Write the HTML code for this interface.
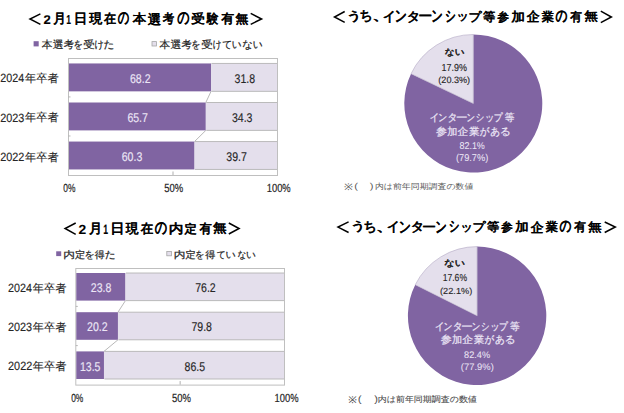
<!DOCTYPE html>
<html><head><meta charset="utf-8"><style>
html,body{margin:0;padding:0;background:#fff;width:624px;height:413px;overflow:hidden}
svg{display:block;font-family:"Liberation Sans", sans-serif;text-rendering:geometricPrecision}
</style></head><body>
<svg width="624" height="413" viewBox="0 0 624 413">
<polyline points="40.4,13.8 30,19 40.4,24.3" fill="none" stroke="#000" stroke-width="1.5" stroke-linejoin="miter"/>
<polyline points="250.7,13.4 261.6,19 250.7,24.3" fill="none" stroke="#000" stroke-width="1.5" stroke-linejoin="miter"/>
<rect x="33.6" y="41.2" width="5.1" height="5.2" fill="#8064a2"/>
<rect x="152" y="41.6" width="4.4" height="4.4" fill="#e4dfec" stroke="#a6a6a6" stroke-width="0.8"/>
<rect x="68.5" y="58.5" width="209" height="117" fill="#fff" stroke="#bfbfbf" stroke-width="1"/>
<rect x="69.0" y="63.45" width="142.038" height="27.9" fill="#8064a2"/>
<rect x="211.038" y="63.45" width="65.96199999999999" height="27.9" fill="#e4dfec"/>
<path d="M211.538,63.45 H277.0 M211.538,91.35 H277.0" stroke="#b4b4b4" stroke-width="0.9" fill="none"/>
<rect x="69.0" y="102.5" width="136.81300000000002" height="27.9" fill="#8064a2"/>
<rect x="205.81300000000002" y="102.5" width="71.18699999999998" height="27.9" fill="#e4dfec"/>
<path d="M206.31300000000002,102.5 H277.0 M206.31300000000002,130.4 H277.0" stroke="#b4b4b4" stroke-width="0.9" fill="none"/>
<line x1="211.038" y1="91.35" x2="205.81300000000002" y2="102.5" stroke="#a6a6a6" stroke-width="0.8"/>
<rect x="69.0" y="141.55" width="125.52699999999999" height="27.9" fill="#8064a2"/>
<rect x="194.527" y="141.55" width="82.47300000000001" height="27.9" fill="#e4dfec"/>
<path d="M195.027,141.55 H277.0 M195.027,169.45000000000002 H277.0" stroke="#b4b4b4" stroke-width="0.9" fill="none"/>
<line x1="205.81300000000002" y1="130.4" x2="194.527" y2="141.55" stroke="#a6a6a6" stroke-width="0.8"/>
<line x1="68.5" y1="96.92500000000001" x2="70.5" y2="96.92500000000001" stroke="#a6a6a6" stroke-width="0.8"/>
<line x1="68.5" y1="135.975" x2="70.5" y2="135.975" stroke="#a6a6a6" stroke-width="0.8"/>
<line x1="173.0" y1="171.5" x2="173.0" y2="175" stroke="#a6a6a6" stroke-width="0.9"/>
<polyline points="75.7,223 65.1,228.5 75.7,234.3" fill="none" stroke="#000" stroke-width="1.5" stroke-linejoin="miter"/>
<polyline points="228.8,223 239.1,228.5 228.8,234" fill="none" stroke="#000" stroke-width="1.5" stroke-linejoin="miter"/>
<rect x="56.2" y="251.3" width="5" height="4.8" fill="#8064a2"/>
<rect x="166.8" y="251.4" width="4.7" height="4.4" fill="#e4dfec" stroke="#a6a6a6" stroke-width="0.8"/>
<rect x="75.8" y="268.5" width="208.7" height="116.60000000000002" fill="#fff" stroke="#bfbfbf" stroke-width="1"/>
<rect x="76.3" y="273.0" width="49.17059999999999" height="27.6" fill="#8064a2"/>
<rect x="125.47059999999999" y="273.0" width="158.5294" height="27.6" fill="#e4dfec"/>
<path d="M125.97059999999999,273.0 H284.0 M125.97059999999999,300.6 H284.0" stroke="#b4b4b4" stroke-width="0.9" fill="none"/>
<rect x="76.3" y="312.2" width="41.657399999999996" height="27.6" fill="#8064a2"/>
<rect x="117.95739999999999" y="312.2" width="166.0426" height="27.6" fill="#e4dfec"/>
<path d="M118.45739999999999,312.2 H284.0 M118.45739999999999,339.8 H284.0" stroke="#b4b4b4" stroke-width="0.9" fill="none"/>
<line x1="125.47059999999999" y1="300.6" x2="117.95739999999999" y2="312.2" stroke="#a6a6a6" stroke-width="0.8"/>
<rect x="76.3" y="351.40000000000003" width="27.674499999999995" height="27.6" fill="#8064a2"/>
<rect x="103.97449999999999" y="351.40000000000003" width="180.02550000000002" height="27.6" fill="#e4dfec"/>
<path d="M104.47449999999999,351.40000000000003 H284.0 M104.47449999999999,379.00000000000006 H284.0" stroke="#b4b4b4" stroke-width="0.9" fill="none"/>
<line x1="117.95739999999999" y1="339.8" x2="103.97449999999999" y2="351.40000000000003" stroke="#a6a6a6" stroke-width="0.8"/>
<line x1="75.8" y1="306.40000000000003" x2="77.8" y2="306.40000000000003" stroke="#a6a6a6" stroke-width="0.8"/>
<line x1="75.8" y1="345.6" x2="77.8" y2="345.6" stroke="#a6a6a6" stroke-width="0.8"/>
<line x1="180.14999999999998" y1="381.1" x2="180.14999999999998" y2="384.6" stroke="#a6a6a6" stroke-width="0.9"/>
<path d="M473.3,103.5 L473.3,34.5 A69,69 0 1 1 411.05,73.73 Z" fill="#8064a2"/>
<path d="M473.3,103.5 L411.05,73.73 A69,69 0 0 1 473.3,34.5 Z" fill="#e4dfec" stroke="#b4aac4" stroke-width="0.6"/>
<polyline points="344.7,11.5 334.5,17 344.7,22.4" fill="none" stroke="#000" stroke-width="1.5" stroke-linejoin="miter"/>
<polyline points="600.8,11.2 611.4,17 600.8,22.7" fill="none" stroke="#000" stroke-width="1.5" stroke-linejoin="miter"/>
<path d="M477.1,315.8 L477.1,246.60000000000002 A69.2,69.2 0 1 1 415.25,284.77 Z" fill="#8064a2"/>
<path d="M477.1,315.8 L415.25,284.77 A69.2,69.2 0 0 1 477.1,246.60000000000002 Z" fill="#e4dfec" stroke="#b4aac4" stroke-width="0.6"/>
<polyline points="348.6,221.9 338,227.1 348.6,232.5" fill="none" stroke="#000" stroke-width="1.5" stroke-linejoin="miter"/>
<polyline points="604.7,222 615.3,227 604.7,232.5" fill="none" stroke="#000" stroke-width="1.5" stroke-linejoin="miter"/>
<text transform="translate(43.608,23.600) scale(0.13061,0.12571)" font-size="100" font-weight="bold" fill="#000" stroke="#000" stroke-width="0.78">2</text>
<text transform="translate(53.200,22.984) scale(0.12658,0.13441)" font-size="100" font-weight="bold" fill="#000" stroke="#000" stroke-width="0.77">月</text>
<text transform="translate(66.289,23.600) scale(0.08511,0.13043)" font-size="100" font-weight="bold" fill="#000" stroke="#000" stroke-width="0.93">1</text>
<text transform="translate(73.800,23.098) scale(0.13571,0.13587)" font-size="100" font-weight="bold" fill="#000" stroke="#000" stroke-width="0.74">日</text>
<text transform="translate(89.259,23.138) scale(0.12941,0.13298)" font-size="100" font-weight="bold" fill="#000" stroke="#000" stroke-width="0.76">現</text>
<text transform="translate(103.921,23.177) scale(0.12121,0.13021)" font-size="100" font-weight="bold" fill="#000" stroke="#000" stroke-width="0.80">在</text>
<text transform="translate(117.671,23.355) scale(0.11474,0.16447)" font-size="100" font-weight="bold" fill="#000" stroke="#000" stroke-width="0.72">の</text>
<text transform="translate(132.869,23.214) scale(0.13465,0.12755)" font-size="100" font-weight="bold" fill="#000" stroke="#000" stroke-width="0.76">本</text>
<text transform="translate(147.667,23.656) scale(0.13299,0.13441)" font-size="100" font-weight="bold" fill="#000" stroke="#000" stroke-width="0.75">選</text>
<text transform="translate(162.700,23.214) scale(0.11531,0.12755)" font-size="100" font-weight="bold" fill="#000" stroke="#000" stroke-width="0.82">考</text>
<text transform="translate(177.356,23.355) scale(0.12211,0.16447)" font-size="100" font-weight="bold" fill="#000" stroke="#000" stroke-width="0.70">の</text>
<text transform="translate(191.326,23.342) scale(0.13723,0.12755)" font-size="100" font-weight="bold" fill="#000" stroke="#000" stroke-width="0.76">受</text>
<text transform="translate(206.853,23.067) scale(0.11765,0.12887)" font-size="100" font-weight="bold" fill="#000" stroke="#000" stroke-width="0.81">験</text>
<text transform="translate(221.329,23.177) scale(0.12929,0.13021)" font-size="100" font-weight="bold" fill="#000" stroke="#000" stroke-width="0.77">有</text>
<text transform="translate(235.600,22.772) scale(0.12887,0.12376)" font-size="100" font-weight="bold" fill="#000" stroke="#000" stroke-width="0.79">無</text>
<text transform="translate(41.694,48.162) scale(0.10638,0.10319)" font-size="100" font-weight="normal" fill="#262626" stroke="#262626" stroke-width="2.10">本</text>
<text transform="translate(52.677,48.162) scale(0.10778,0.10319)" font-size="100" font-weight="normal" fill="#262626" stroke="#262626" stroke-width="2.09">選</text>
<text transform="translate(63.796,48.162) scale(0.10213,0.10319)" font-size="100" font-weight="normal" fill="#262626" stroke="#262626" stroke-width="2.14">考</text>
<text transform="translate(73.484,48.162) scale(0.09241,0.10319)" font-size="100" font-weight="normal" fill="#262626" stroke="#262626" stroke-width="2.25">を</text>
<text transform="translate(83.237,48.162) scale(0.11573,0.10319)" font-size="100" font-weight="normal" fill="#262626" stroke="#262626" stroke-width="2.01">受</text>
<text transform="translate(94.558,48.162) scale(0.09167,0.10319)" font-size="100" font-weight="normal" fill="#262626" stroke="#262626" stroke-width="2.26">け</text>
<text transform="translate(103.557,48.162) scale(0.10714,0.10319)" font-size="100" font-weight="normal" fill="#262626" stroke="#262626" stroke-width="2.09">た</text>
<text transform="translate(159.494,48.162) scale(0.10638,0.10319)" font-size="100" font-weight="normal" fill="#262626" stroke="#262626" stroke-width="2.10">本</text>
<text transform="translate(170.477,48.162) scale(0.10778,0.10319)" font-size="100" font-weight="normal" fill="#262626" stroke="#262626" stroke-width="2.09">選</text>
<text transform="translate(181.596,48.162) scale(0.10213,0.10319)" font-size="100" font-weight="normal" fill="#262626" stroke="#262626" stroke-width="2.14">考</text>
<text transform="translate(191.297,48.162) scale(0.09114,0.10319)" font-size="100" font-weight="normal" fill="#262626" stroke="#262626" stroke-width="2.26">を</text>
<text transform="translate(201.237,48.162) scale(0.11573,0.10319)" font-size="100" font-weight="normal" fill="#262626" stroke="#262626" stroke-width="2.01">受</text>
<text transform="translate(212.692,48.162) scale(0.08690,0.10319)" font-size="100" font-weight="normal" fill="#262626" stroke="#262626" stroke-width="2.31">け</text>
<text transform="translate(222.205,48.162) scale(0.09881,0.10319)" font-size="100" font-weight="normal" fill="#262626" stroke="#262626" stroke-width="2.18">て</text>
<text transform="translate(231.631,48.162) scale(0.09651,0.10319)" font-size="100" font-weight="normal" fill="#262626" stroke="#262626" stroke-width="2.20">い</text>
<text transform="translate(242.183,48.162) scale(0.10345,0.10319)" font-size="100" font-weight="normal" fill="#262626" stroke="#262626" stroke-width="2.13">な</text>
<text transform="translate(252.721,48.162) scale(0.09767,0.10319)" font-size="100" font-weight="normal" fill="#262626" stroke="#262626" stroke-width="2.19">い</text>
<text transform="translate(129.992,82.873) scale(0.10541,0.12676)" font-size="100" font-weight="normal" fill="#ece6f6" stroke="#ece6f6" stroke-width="1.29">68.2</text>
<text transform="translate(234.545,82.873) scale(0.10541,0.12676)" font-size="100" font-weight="normal" fill="#262626" stroke="#262626" stroke-width="1.29">31.8</text>
<text transform="translate(0.263,82.480) scale(0.10748,0.11972)" font-size="100" font-weight="normal" fill="#262626" stroke="#262626" stroke-width="1.32">2024</text>
<text transform="translate(24.987,82.438) scale(0.11254,0.11354)" font-size="100" font-weight="normal" fill="#262626" stroke="#262626" stroke-width="0.88">年卒者</text>
<text transform="translate(127.379,121.923) scale(0.10541,0.12676)" font-size="100" font-weight="normal" fill="#ece6f6" stroke="#ece6f6" stroke-width="1.29">65.7</text>
<text transform="translate(231.932,121.923) scale(0.10541,0.12676)" font-size="100" font-weight="normal" fill="#262626" stroke="#262626" stroke-width="1.29">34.3</text>
<text transform="translate(0.260,121.530) scale(0.10798,0.11972)" font-size="100" font-weight="normal" fill="#262626" stroke="#262626" stroke-width="1.32">2023</text>
<text transform="translate(24.987,121.488) scale(0.11254,0.11354)" font-size="100" font-weight="normal" fill="#262626" stroke="#262626" stroke-width="0.88">年卒者</text>
<text transform="translate(121.736,160.973) scale(0.10541,0.12676)" font-size="100" font-weight="normal" fill="#ece6f6" stroke="#ece6f6" stroke-width="1.29">60.3</text>
<text transform="translate(226.289,160.973) scale(0.10541,0.12676)" font-size="100" font-weight="normal" fill="#262626" stroke="#262626" stroke-width="1.29">39.7</text>
<text transform="translate(0.258,160.580) scale(0.10849,0.11972)" font-size="100" font-weight="normal" fill="#262626" stroke="#262626" stroke-width="1.31">2022</text>
<text transform="translate(24.987,160.537) scale(0.11254,0.11354)" font-size="100" font-weight="normal" fill="#262626" stroke="#262626" stroke-width="0.88">年卒者</text>
<text transform="translate(63.364,192.483) scale(0.08394,0.11690)" font-size="100" font-weight="normal" fill="#262626" stroke="#262626" stroke-width="1.79">0%</text>
<text transform="translate(164.221,192.482) scale(0.09482,0.11831)" font-size="100" font-weight="normal" fill="#262626" stroke="#262626" stroke-width="1.69">50%</text>
<text transform="translate(266.752,192.482) scale(0.09344,0.11831)" font-size="100" font-weight="normal" fill="#262626" stroke="#262626" stroke-width="1.70">100%</text>
<text transform="translate(78.584,233.600) scale(0.13878,0.13143)" font-size="100" font-weight="bold" fill="#000" stroke="#000" stroke-width="0.74">2</text>
<text transform="translate(89.000,232.584) scale(0.13165,0.13441)" font-size="100" font-weight="bold" fill="#000" stroke="#000" stroke-width="0.75">月</text>
<text transform="translate(103.277,233.600) scale(0.08723,0.13623)" font-size="100" font-weight="bold" fill="#000" stroke="#000" stroke-width="0.89">1</text>
<text transform="translate(110.300,232.698) scale(0.14286,0.13587)" font-size="100" font-weight="bold" fill="#000" stroke="#000" stroke-width="0.72">日</text>
<text transform="translate(125.855,232.738) scale(0.12745,0.13298)" font-size="100" font-weight="bold" fill="#000" stroke="#000" stroke-width="0.77">現</text>
<text transform="translate(140.725,232.777) scale(0.12525,0.13021)" font-size="100" font-weight="bold" fill="#000" stroke="#000" stroke-width="0.78">在</text>
<text transform="translate(154.754,232.955) scale(0.12316,0.16447)" font-size="100" font-weight="bold" fill="#000" stroke="#000" stroke-width="0.70">の</text>
<text transform="translate(168.767,232.814) scale(0.14762,0.12755)" font-size="100" font-weight="bold" fill="#000" stroke="#000" stroke-width="0.73">内</text>
<text transform="translate(184.447,232.658) scale(0.12347,0.12136)" font-size="100" font-weight="bold" fill="#000" stroke="#000" stroke-width="0.82">定</text>
<text transform="translate(199.623,232.777) scale(0.12323,0.13021)" font-size="100" font-weight="bold" fill="#000" stroke="#000" stroke-width="0.79">有</text>
<text transform="translate(213.000,232.372) scale(0.13608,0.12376)" font-size="100" font-weight="bold" fill="#000" stroke="#000" stroke-width="0.77">無</text>
<text transform="translate(63.263,257.527) scale(0.11707,0.09789)" font-size="100" font-weight="normal" fill="#262626" stroke="#262626" stroke-width="2.05">内</text>
<text transform="translate(74.898,257.527) scale(0.10217,0.09789)" font-size="100" font-weight="normal" fill="#262626" stroke="#262626" stroke-width="2.20">定</text>
<text transform="translate(84.486,257.527) scale(0.10127,0.09789)" font-size="100" font-weight="normal" fill="#262626" stroke="#262626" stroke-width="2.21">を</text>
<text transform="translate(94.701,257.527) scale(0.09895,0.09789)" font-size="100" font-weight="normal" fill="#262626" stroke="#262626" stroke-width="2.24">得</text>
<text transform="translate(104.857,257.527) scale(0.10714,0.09789)" font-size="100" font-weight="normal" fill="#262626" stroke="#262626" stroke-width="2.15">た</text>
<text transform="translate(173.763,257.527) scale(0.11707,0.09789)" font-size="100" font-weight="normal" fill="#262626" stroke="#262626" stroke-width="2.05">内</text>
<text transform="translate(185.398,257.527) scale(0.10217,0.09789)" font-size="100" font-weight="normal" fill="#262626" stroke="#262626" stroke-width="2.20">定</text>
<text transform="translate(195.070,257.527) scale(0.09367,0.09789)" font-size="100" font-weight="normal" fill="#262626" stroke="#262626" stroke-width="2.30">を</text>
<text transform="translate(205.299,257.527) scale(0.10105,0.09789)" font-size="100" font-weight="normal" fill="#262626" stroke="#262626" stroke-width="2.21">得</text>
<text transform="translate(216.648,257.527) scale(0.08810,0.09789)" font-size="100" font-weight="normal" fill="#262626" stroke="#262626" stroke-width="2.37">て</text>
<text transform="translate(225.390,257.527) scale(0.10116,0.09789)" font-size="100" font-weight="normal" fill="#262626" stroke="#262626" stroke-width="2.21">い</text>
<text transform="translate(237.463,257.527) scale(0.08736,0.09789)" font-size="100" font-weight="normal" fill="#262626" stroke="#262626" stroke-width="2.38">な</text>
<text transform="translate(246.021,257.527) scale(0.09767,0.09789)" font-size="100" font-weight="normal" fill="#262626" stroke="#262626" stroke-width="2.25">い</text>
<text transform="translate(90.858,292.273) scale(0.10541,0.12676)" font-size="100" font-weight="normal" fill="#ece6f6" stroke="#ece6f6" stroke-width="1.29">23.8</text>
<text transform="translate(195.208,292.273) scale(0.10541,0.12676)" font-size="100" font-weight="normal" fill="#262626" stroke="#262626" stroke-width="1.29">76.2</text>
<text transform="translate(8.063,291.880) scale(0.10748,0.11972)" font-size="100" font-weight="normal" fill="#262626" stroke="#262626" stroke-width="1.32">2024</text>
<text transform="translate(32.787,291.837) scale(0.11254,0.11354)" font-size="100" font-weight="normal" fill="#262626" stroke="#262626" stroke-width="0.88">年卒者</text>
<text transform="translate(87.102,331.473) scale(0.10541,0.12676)" font-size="100" font-weight="normal" fill="#ece6f6" stroke="#ece6f6" stroke-width="1.29">20.2</text>
<text transform="translate(191.452,331.473) scale(0.10541,0.12676)" font-size="100" font-weight="normal" fill="#262626" stroke="#262626" stroke-width="1.29">79.8</text>
<text transform="translate(8.060,331.080) scale(0.10798,0.11972)" font-size="100" font-weight="normal" fill="#262626" stroke="#262626" stroke-width="1.32">2023</text>
<text transform="translate(32.787,331.037) scale(0.11254,0.11354)" font-size="100" font-weight="normal" fill="#262626" stroke="#262626" stroke-width="0.88">年卒者</text>
<text transform="translate(79.952,370.673) scale(0.10541,0.12676)" font-size="100" font-weight="normal" fill="#ece6f6" stroke="#ece6f6" stroke-width="1.29">13.5</text>
<text transform="translate(184.513,370.673) scale(0.10541,0.12676)" font-size="100" font-weight="normal" fill="#262626" stroke="#262626" stroke-width="1.29">86.5</text>
<text transform="translate(8.058,370.280) scale(0.10849,0.11972)" font-size="100" font-weight="normal" fill="#262626" stroke="#262626" stroke-width="1.31">2022</text>
<text transform="translate(32.787,370.238) scale(0.11254,0.11354)" font-size="100" font-weight="normal" fill="#262626" stroke="#262626" stroke-width="0.88">年卒者</text>
<text transform="translate(71.164,402.083) scale(0.08394,0.11690)" font-size="100" font-weight="normal" fill="#262626" stroke="#262626" stroke-width="1.79">0%</text>
<text transform="translate(172.021,402.082) scale(0.09482,0.11831)" font-size="100" font-weight="normal" fill="#262626" stroke="#262626" stroke-width="1.69">50%</text>
<text transform="translate(274.552,402.082) scale(0.09344,0.11831)" font-size="100" font-weight="normal" fill="#262626" stroke="#262626" stroke-width="1.70">100%</text>
<text transform="translate(346.489,20.080) scale(0.15082,0.12000)" font-size="100" font-weight="bold" fill="#000" stroke="#000" stroke-width="0.74">う</text>
<text transform="translate(359.560,20.418) scale(0.13000,0.13636)" font-size="100" font-weight="bold" fill="#000" stroke="#000" stroke-width="0.75">ち</text>
<text transform="translate(371.943,20.461) scale(0.19010,0.11881)" font-size="100" font-weight="bold" fill="#000" stroke="#000" stroke-width="0.65">、</text>
<text transform="translate(382.856,20.600) scale(0.12875,0.13333)" font-size="100" font-weight="bold" fill="#000" stroke="#000" stroke-width="0.76">イ</text>
<text transform="translate(394.795,21.215) scale(0.12048,0.15385)" font-size="100" font-weight="bold" fill="#000" stroke="#000" stroke-width="0.73">ン</text>
<text transform="translate(406.800,20.535) scale(0.13333,0.12903)" font-size="100" font-weight="bold" fill="#000" stroke="#000" stroke-width="0.76">タ</text>
<text transform="translate(418.215,20.461) scale(0.14070,0.11881)" font-size="100" font-weight="bold" fill="#000" stroke="#000" stroke-width="0.77">ー</text>
<text transform="translate(431.355,21.215) scale(0.11446,0.15385)" font-size="100" font-weight="bold" fill="#000" stroke="#000" stroke-width="0.75">ン</text>
<text transform="translate(444.944,20.970) scale(0.10698,0.14815)" font-size="100" font-weight="bold" fill="#000" stroke="#000" stroke-width="0.78">シ</text>
<text transform="translate(456.489,20.461) scale(0.12222,0.11881)" font-size="100" font-weight="bold" fill="#000" stroke="#000" stroke-width="0.83">ッ</text>
<text transform="translate(468.598,20.920) scale(0.12887,0.12000)" font-size="100" font-weight="bold" fill="#000" stroke="#000" stroke-width="0.80">プ</text>
<text transform="translate(483.000,20.868) scale(0.12165,0.12371)" font-size="100" font-weight="bold" fill="#000" stroke="#000" stroke-width="0.82">等</text>
<text transform="translate(497.200,20.600) scale(0.11959,0.11765)" font-size="100" font-weight="bold" fill="#000" stroke="#000" stroke-width="0.84">参</text>
<text transform="translate(511.469,21.100) scale(0.13441,0.12500)" font-size="100" font-weight="bold" fill="#000" stroke="#000" stroke-width="0.77">加</text>
<text transform="translate(526.729,21.413) scale(0.12929,0.13187)" font-size="100" font-weight="bold" fill="#000" stroke="#000" stroke-width="0.77">企</text>
<text transform="translate(541.800,20.868) scale(0.12245,0.12371)" font-size="100" font-weight="bold" fill="#000" stroke="#000" stroke-width="0.81">業</text>
<text transform="translate(555.564,21.021) scale(0.11789,0.15789)" font-size="100" font-weight="bold" fill="#000" stroke="#000" stroke-width="0.73">の</text>
<text transform="translate(570.317,20.850) scale(0.11717,0.12500)" font-size="100" font-weight="bold" fill="#000" stroke="#000" stroke-width="0.83">有</text>
<text transform="translate(584.200,20.461) scale(0.13711,0.11881)" font-size="100" font-weight="bold" fill="#000" stroke="#000" stroke-width="0.78">無</text>
<text transform="translate(444.807,55.071) scale(0.09645,0.08646)" font-size="100" font-weight="bold" fill="#262626" stroke="#262626" stroke-width="1.64">ない</text>
<text transform="translate(441.479,70.599) scale(0.09007,0.10141)" font-size="100" font-weight="normal" fill="#262626" stroke="#262626" stroke-width="1.25">17.9%</text>
<text transform="translate(438.357,82.901) scale(0.09053,0.09043)" font-size="100" font-weight="normal" fill="#262626" stroke="#262626" stroke-width="1.33">(20.3%)</text>
<text transform="translate(429.624,120.745) scale(0.09730,0.10426)" font-size="100" font-weight="normal" fill="#ece6f6" stroke="#ece6f6" stroke-width="2.18">イ</text>
<text transform="translate(438.350,120.745) scale(0.08846,0.10426)" font-size="100" font-weight="normal" fill="#ece6f6" stroke="#ece6f6" stroke-width="2.28">ン</text>
<text transform="translate(447.619,120.745) scale(0.09857,0.10426)" font-size="100" font-weight="normal" fill="#ece6f6" stroke="#ece6f6" stroke-width="2.17">タ</text>
<text transform="translate(455.724,120.745) scale(0.11951,0.10426)" font-size="100" font-weight="normal" fill="#ece6f6" stroke="#ece6f6" stroke-width="1.97">ー</text>
<text transform="translate(466.600,120.745) scale(0.08462,0.10426)" font-size="100" font-weight="normal" fill="#ece6f6" stroke="#ece6f6" stroke-width="2.33">ン</text>
<text transform="translate(475.863,120.745) scale(0.08519,0.10426)" font-size="100" font-weight="normal" fill="#ece6f6" stroke="#ece6f6" stroke-width="2.32">シ</text>
<text transform="translate(485.094,120.745) scale(0.09412,0.10426)" font-size="100" font-weight="normal" fill="#ece6f6" stroke="#ece6f6" stroke-width="2.22">ッ</text>
<text transform="translate(493.705,120.745) scale(0.08830,0.10426)" font-size="100" font-weight="normal" fill="#ece6f6" stroke="#ece6f6" stroke-width="2.29">プ</text>
<text transform="translate(504.710,120.745) scale(0.09677,0.10426)" font-size="100" font-weight="normal" fill="#ece6f6" stroke="#ece6f6" stroke-width="2.19">等</text>
<text transform="translate(435.967,134.751) scale(0.11099,0.10306)" font-size="100" font-weight="normal" fill="#ece6f6" stroke="#ece6f6" stroke-width="2.06">参</text>
<text transform="translate(447.197,134.751) scale(0.10116,0.10306)" font-size="100" font-weight="normal" fill="#ece6f6" stroke="#ece6f6" stroke-width="2.15">加</text>
<text transform="translate(457.383,134.751) scale(0.10860,0.10306)" font-size="100" font-weight="normal" fill="#ece6f6" stroke="#ece6f6" stroke-width="2.08">企</text>
<text transform="translate(469.296,134.751) scale(0.10215,0.10306)" font-size="100" font-weight="normal" fill="#ece6f6" stroke="#ece6f6" stroke-width="2.14">業</text>
<text transform="translate(479.712,134.751) scale(0.09691,0.10306)" font-size="100" font-weight="normal" fill="#ece6f6" stroke="#ece6f6" stroke-width="2.20">が</text>
<text transform="translate(490.314,134.751) scale(0.09765,0.10306)" font-size="100" font-weight="normal" fill="#ece6f6" stroke="#ece6f6" stroke-width="2.19">あ</text>
<text transform="translate(499.672,134.751) scale(0.11067,0.10306)" font-size="100" font-weight="normal" fill="#ece6f6" stroke="#ece6f6" stroke-width="2.06">る</text>
<text transform="translate(459.442,148.901) scale(0.08949,0.09859)" font-size="100" font-weight="normal" fill="#ece6f6" stroke="#ece6f6" stroke-width="0.43">82.1%</text>
<text transform="translate(455.946,160.900) scale(0.09231,0.10000)" font-size="100" font-weight="normal" fill="#ece6f6" stroke="#ece6f6" stroke-width="0.42">(79.7%)</text>
<text transform="translate(344.066,189.908) scale(0.10676,0.09178)" font-size="100" font-weight="normal" fill="#595959">※</text>
<text transform="translate(354.231,189.168) scale(0.11154,0.08723)" font-size="100" font-weight="normal" fill="#595959">(</text>
<text transform="translate(369.688,189.168) scale(0.11154,0.08723)" font-size="100" font-weight="normal" fill="#595959">)</text>
<text transform="translate(374.887,189.333) scale(0.08910,0.07778)" font-size="100" font-weight="normal" fill="#595959">内は前年同期調査の数値</text>
<text transform="translate(350.389,230.401) scale(0.15082,0.11900)" font-size="100" font-weight="bold" fill="#000" stroke="#000" stroke-width="0.74">う</text>
<text transform="translate(363.460,230.736) scale(0.13000,0.13523)" font-size="100" font-weight="bold" fill="#000" stroke="#000" stroke-width="0.75">ち</text>
<text transform="translate(375.874,230.779) scale(0.18851,0.11782)" font-size="100" font-weight="bold" fill="#000" stroke="#000" stroke-width="0.65">、</text>
<text transform="translate(386.756,230.917) scale(0.12875,0.13222)" font-size="100" font-weight="bold" fill="#000" stroke="#000" stroke-width="0.77">イ</text>
<text transform="translate(398.695,231.527) scale(0.12048,0.15256)" font-size="100" font-weight="bold" fill="#000" stroke="#000" stroke-width="0.73">ン</text>
<text transform="translate(410.700,230.853) scale(0.13333,0.12796)" font-size="100" font-weight="bold" fill="#000" stroke="#000" stroke-width="0.77">タ</text>
<text transform="translate(422.115,230.779) scale(0.14070,0.11782)" font-size="100" font-weight="bold" fill="#000" stroke="#000" stroke-width="0.77">ー</text>
<text transform="translate(435.255,231.527) scale(0.11446,0.15256)" font-size="100" font-weight="bold" fill="#000" stroke="#000" stroke-width="0.75">ン</text>
<text transform="translate(448.844,231.284) scale(0.10698,0.14691)" font-size="100" font-weight="bold" fill="#000" stroke="#000" stroke-width="0.79">シ</text>
<text transform="translate(460.389,230.779) scale(0.12222,0.11782)" font-size="100" font-weight="bold" fill="#000" stroke="#000" stroke-width="0.83">ッ</text>
<text transform="translate(472.498,231.234) scale(0.12887,0.11900)" font-size="100" font-weight="bold" fill="#000" stroke="#000" stroke-width="0.81">プ</text>
<text transform="translate(486.900,231.182) scale(0.12165,0.12268)" font-size="100" font-weight="bold" fill="#000" stroke="#000" stroke-width="0.82">等</text>
<text transform="translate(501.100,230.917) scale(0.11959,0.11667)" font-size="100" font-weight="bold" fill="#000" stroke="#000" stroke-width="0.85">参</text>
<text transform="translate(515.369,231.412) scale(0.13441,0.12396)" font-size="100" font-weight="bold" fill="#000" stroke="#000" stroke-width="0.77">加</text>
<text transform="translate(530.629,231.723) scale(0.12929,0.13077)" font-size="100" font-weight="bold" fill="#000" stroke="#000" stroke-width="0.77">企</text>
<text transform="translate(545.700,231.182) scale(0.12245,0.12268)" font-size="100" font-weight="bold" fill="#000" stroke="#000" stroke-width="0.82">業</text>
<text transform="translate(559.464,231.334) scale(0.11789,0.15658)" font-size="100" font-weight="bold" fill="#000" stroke="#000" stroke-width="0.73">の</text>
<text transform="translate(574.217,231.165) scale(0.11717,0.12396)" font-size="100" font-weight="bold" fill="#000" stroke="#000" stroke-width="0.83">有</text>
<text transform="translate(588.100,230.779) scale(0.13711,0.11782)" font-size="100" font-weight="bold" fill="#000" stroke="#000" stroke-width="0.78">無</text>
<text transform="translate(444.297,265.850) scale(0.10152,0.08750)" font-size="100" font-weight="bold" fill="#262626" stroke="#262626" stroke-width="1.59">ない</text>
<text transform="translate(442.715,281.399) scale(0.08566,0.10141)" font-size="100" font-weight="normal" fill="#262626" stroke="#262626" stroke-width="1.28">17.6%</text>
<text transform="translate(440.048,293.546) scale(0.09201,0.08830)" font-size="100" font-weight="normal" fill="#262626" stroke="#262626" stroke-width="1.33">(22.1%)</text>
<text transform="translate(434.824,330.045) scale(0.09730,0.10426)" font-size="100" font-weight="normal" fill="#ece6f6" stroke="#ece6f6" stroke-width="2.18">イ</text>
<text transform="translate(443.550,330.045) scale(0.08846,0.10426)" font-size="100" font-weight="normal" fill="#ece6f6" stroke="#ece6f6" stroke-width="2.28">ン</text>
<text transform="translate(452.819,330.045) scale(0.09857,0.10426)" font-size="100" font-weight="normal" fill="#ece6f6" stroke="#ece6f6" stroke-width="2.17">タ</text>
<text transform="translate(460.924,330.045) scale(0.11951,0.10426)" font-size="100" font-weight="normal" fill="#ece6f6" stroke="#ece6f6" stroke-width="1.97">ー</text>
<text transform="translate(471.800,330.045) scale(0.08462,0.10426)" font-size="100" font-weight="normal" fill="#ece6f6" stroke="#ece6f6" stroke-width="2.33">ン</text>
<text transform="translate(481.063,330.045) scale(0.08519,0.10426)" font-size="100" font-weight="normal" fill="#ece6f6" stroke="#ece6f6" stroke-width="2.32">シ</text>
<text transform="translate(490.294,330.045) scale(0.09412,0.10426)" font-size="100" font-weight="normal" fill="#ece6f6" stroke="#ece6f6" stroke-width="2.22">ッ</text>
<text transform="translate(498.905,330.045) scale(0.08830,0.10426)" font-size="100" font-weight="normal" fill="#ece6f6" stroke="#ece6f6" stroke-width="2.29">プ</text>
<text transform="translate(509.910,330.045) scale(0.09677,0.10426)" font-size="100" font-weight="normal" fill="#ece6f6" stroke="#ece6f6" stroke-width="2.19">等</text>
<text transform="translate(440.767,343.451) scale(0.11099,0.10306)" font-size="100" font-weight="normal" fill="#ece6f6" stroke="#ece6f6" stroke-width="2.06">参</text>
<text transform="translate(451.997,343.451) scale(0.10116,0.10306)" font-size="100" font-weight="normal" fill="#ece6f6" stroke="#ece6f6" stroke-width="2.15">加</text>
<text transform="translate(462.183,343.451) scale(0.10860,0.10306)" font-size="100" font-weight="normal" fill="#ece6f6" stroke="#ece6f6" stroke-width="2.08">企</text>
<text transform="translate(474.096,343.451) scale(0.10215,0.10306)" font-size="100" font-weight="normal" fill="#ece6f6" stroke="#ece6f6" stroke-width="2.14">業</text>
<text transform="translate(484.512,343.451) scale(0.09691,0.10306)" font-size="100" font-weight="normal" fill="#ece6f6" stroke="#ece6f6" stroke-width="2.20">が</text>
<text transform="translate(495.114,343.451) scale(0.09765,0.10306)" font-size="100" font-weight="normal" fill="#ece6f6" stroke="#ece6f6" stroke-width="2.19">あ</text>
<text transform="translate(504.472,343.451) scale(0.11067,0.10306)" font-size="100" font-weight="normal" fill="#ece6f6" stroke="#ece6f6" stroke-width="2.06">る</text>
<text transform="translate(464.032,358.006) scale(0.09203,0.09437)" font-size="100" font-weight="normal" fill="#ece6f6" stroke="#ece6f6" stroke-width="0.43">82.4%</text>
<text transform="translate(460.836,370.112) scale(0.09408,0.09468)" font-size="100" font-weight="normal" fill="#ece6f6" stroke="#ece6f6" stroke-width="0.42">(77.9%)</text>
<text transform="translate(348.186,402.507) scale(0.10270,0.09315)" font-size="100" font-weight="normal" fill="#4a4a4a" stroke="#4a4a4a" stroke-width="1.02">※</text>
<text transform="translate(358.000,402.101) scale(0.10000,0.09043)" font-size="100" font-weight="normal" fill="#4a4a4a" stroke="#4a4a4a" stroke-width="1.05">(</text>
<text transform="translate(374.500,402.101) scale(0.10000,0.09043)" font-size="100" font-weight="normal" fill="#4a4a4a" stroke="#4a4a4a" stroke-width="1.05">)</text>
<text transform="translate(377.783,402.288) scale(0.08965,0.08081)" font-size="100" font-weight="normal" fill="#4a4a4a" stroke="#4a4a4a" stroke-width="1.17">内は前年同期調査の数値</text>
</svg>
</body></html>
